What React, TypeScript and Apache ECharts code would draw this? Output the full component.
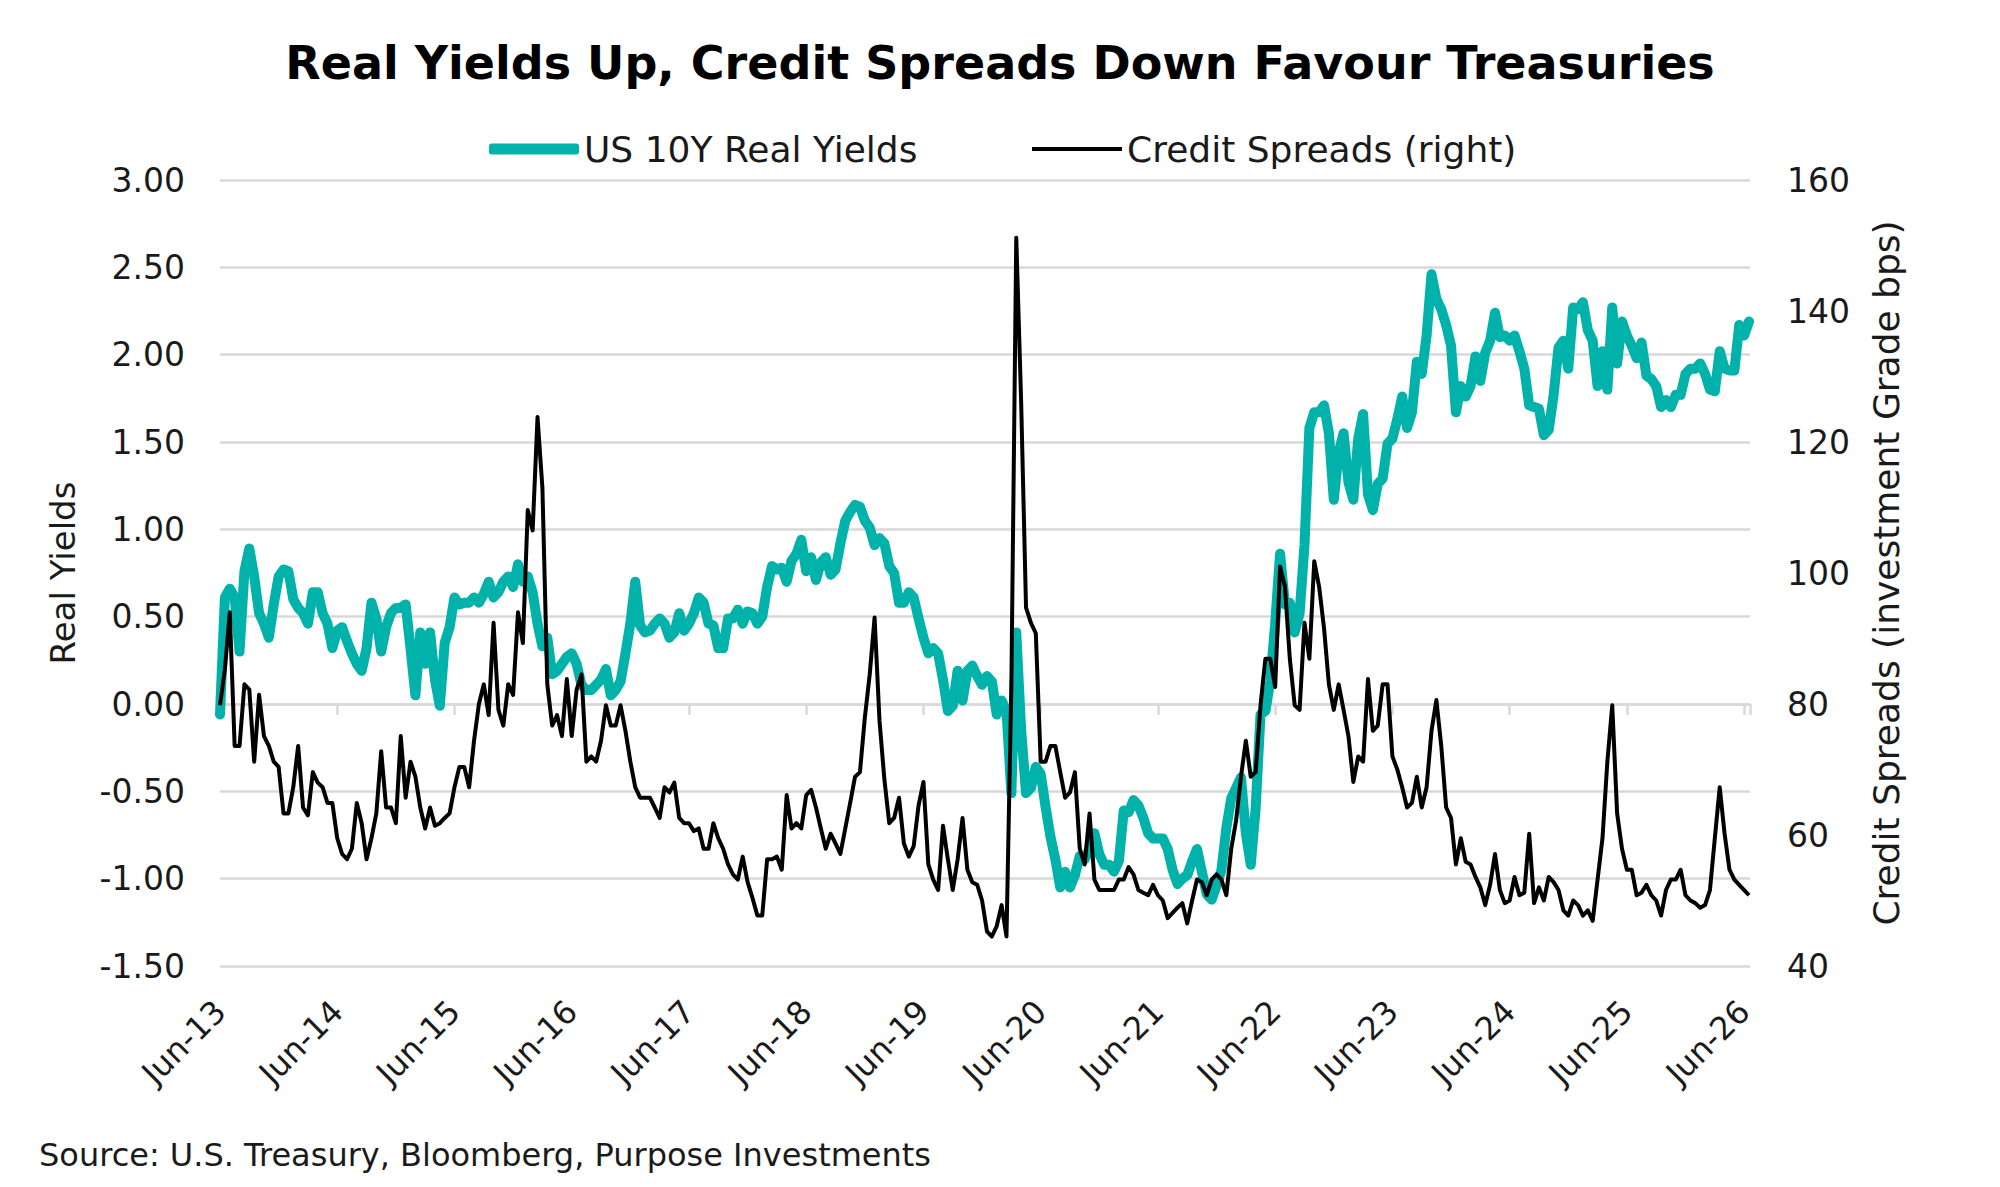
import { useEffect, useRef } from 'react'
import * as echarts from 'echarts'

// half-monthly readings, first point = Jun-13, last point = Jun-26
const startYear = 13
const stepMonths = 0.5

// US 10Y real yields (%)
const realYields = [
  -0.06, 0.61, 0.66, 0.61, 0.30, 0.76, 0.89, 0.73, 0.52, 0.46, 0.38, 0.57,
  0.73, 0.77, 0.76, 0.60, 0.55, 0.52, 0.46, 0.64, 0.64, 0.52, 0.46, 0.32,
  0.42, 0.44, 0.36, 0.29, 0.23, 0.19, 0.32, 0.58, 0.49, 0.30, 0.44, 0.52,
  0.55, 0.55, 0.57, 0.32, 0.05, 0.41, 0.23, 0.41, 0.14, -0.01, 0.35, 0.44,
  0.61, 0.57, 0.58, 0.58, 0.61, 0.58, 0.63, 0.70, 0.61, 0.64, 0.70, 0.73,
  0.67, 0.80, 0.70, 0.73, 0.64, 0.46, 0.33, 0.38, 0.17, 0.19, 0.23, 0.27,
  0.29, 0.23, 0.11, 0.08, 0.08, 0.11, 0.14, 0.20, 0.05, 0.08, 0.13, 0.29,
  0.46, 0.70, 0.45, 0.41, 0.42, 0.46, 0.49, 0.46, 0.38, 0.41, 0.52, 0.42,
  0.46, 0.52, 0.61, 0.58, 0.46, 0.45, 0.32, 0.32, 0.49, 0.49, 0.54, 0.46,
  0.53, 0.52, 0.46, 0.50, 0.67, 0.79, 0.77, 0.78, 0.70, 0.82, 0.86, 0.94,
  0.76, 0.84, 0.71, 0.81, 0.84, 0.74, 0.77, 0.92, 1.05, 1.10, 1.14, 1.13,
  1.05, 1.01, 0.91, 0.95, 0.92, 0.79, 0.75, 0.58, 0.58, 0.64, 0.61, 0.49,
  0.38, 0.29, 0.32, 0.29, 0.14, -0.04, -0.01, 0.19, 0.02, 0.19, 0.22, 0.16,
  0.11, 0.16, 0.13, -0.06, 0.02, -0.04, -0.51, 0.41, -0.15, -0.51, -0.48, -0.36,
  -0.40, -0.59, -0.76, -0.89, -1.05, -0.96, -1.05, -0.98, -0.87, -0.89, -0.83, -0.74,
  -0.86, -0.92, -0.92, -0.96, -0.90, -0.61, -0.62, -0.55, -0.58, -0.65, -0.74, -0.77,
  -0.77, -0.77, -0.83, -0.95, -1.03, -1.00, -0.98, -0.90, -0.83, -0.96, -1.09, -1.12,
  -1.04, -0.95, -0.71, -0.54, -0.48, -0.42, -0.74, -0.92, -0.60, -0.06, -0.04, 0.13,
  0.46, 0.86, 0.57, 0.58, 0.41, 0.52, 0.91, 1.58, 1.67, 1.67, 1.71, 1.55,
  1.17, 1.44, 1.55, 1.27, 1.17, 1.52, 1.66, 1.20, 1.11, 1.26, 1.29, 1.49,
  1.52, 1.63, 1.76, 1.58, 1.67, 1.96, 1.89, 2.11, 2.46, 2.32, 2.26, 2.17,
  2.05, 1.67, 1.82, 1.76, 1.82, 1.99, 1.85, 2.01, 2.08, 2.24, 2.10, 2.11,
  2.08, 2.11, 2.02, 1.92, 1.71, 1.70, 1.69, 1.54, 1.57, 1.77, 2.04, 2.08,
  1.92, 2.27, 2.26, 2.30, 2.14, 2.08, 1.82, 2.02, 1.80, 2.27, 1.95, 2.19,
  2.11, 2.05, 1.98, 2.07, 1.88, 1.86, 1.82, 1.70, 1.74, 1.70, 1.77, 1.77,
  1.89, 1.92, 1.92, 1.95, 1.89, 1.80, 1.79, 2.02, 1.92, 1.91, 1.91, 2.17,
  2.11, 2.19,
]

// investment grade credit spreads (bps)
const creditSpreads = [
  79.8, 85.3, 94.0, 73.6, 73.6, 83.0, 82.2, 71.2, 81.4, 75.1, 73.6, 71.2,
  70.4, 63.3, 63.3, 67.3, 73.6, 64.2, 63.0, 69.6, 68.0, 67.3, 64.9, 64.9,
  59.5, 57.1, 56.3, 57.9, 64.9, 61.8, 56.3, 59.5, 63.3, 72.8, 64.2, 64.2,
  61.8, 75.1, 65.7, 71.2, 68.9, 64.2, 61.0, 64.2, 61.4, 61.8, 62.6, 63.3,
  67.3, 70.4, 70.4, 67.3, 74.4, 80.0, 83.0, 78.3, 92.4, 79.1, 76.7, 83.0,
  81.4, 94.0, 89.3, 109.6, 106.5, 123.8, 113.0, 83.0, 76.7, 78.3, 75.1, 83.8,
  75.1, 82.2, 84.5, 71.2, 72.0, 71.2, 74.4, 79.8, 76.7, 76.7, 79.8, 75.9,
  71.2, 67.3, 65.7, 65.7, 65.7, 64.2, 62.6, 67.3, 66.5, 68.0, 62.6, 61.8,
  61.8, 60.6, 61.0, 57.9, 57.9, 61.8, 59.5, 57.9, 55.5, 54.0, 53.2, 56.7,
  52.8, 50.4, 47.7, 47.7, 56.3, 56.3, 56.7, 54.7, 66.1, 61.0, 61.8, 61.0,
  66.1, 66.9, 64.2, 61.0, 57.9, 60.2, 58.7, 57.1, 61.0, 64.9, 68.9, 69.6,
  77.9, 84.5, 93.2, 77.5, 68.5, 61.8, 62.6, 65.7, 58.7, 56.7, 58.3, 64.5,
  68.1, 55.5, 53.2, 51.6, 61.4, 56.3, 51.6, 56.3, 62.6, 54.7, 52.8, 52.4,
  50.0, 45.3, 44.5, 46.1, 49.3, 44.5, 83.0, 151.2, 126.1, 94.7, 92.4, 90.8,
  71.2, 71.2, 73.6, 73.6, 69.6, 65.7, 66.5, 69.6, 57.9, 55.5, 63.3, 53.2,
  51.6, 51.6, 51.6, 51.6, 53.2, 53.2, 55.1, 54.0, 51.6, 51.2, 50.8, 52.4,
  50.8, 50.0, 47.3, 48.1, 48.9, 49.6, 46.5, 50.0, 53.2, 52.8, 50.8, 53.2,
  54.0, 53.2, 50.8, 57.9, 62.2, 68.9, 74.4, 68.9, 69.6, 79.8, 86.9, 86.9,
  82.6, 101.0, 97.9, 86.9, 79.8, 79.1, 92.4, 86.9, 101.8, 97.9, 91.6, 83.0,
  79.1, 83.0, 79.1, 75.1, 68.1, 72.0, 71.2, 83.8, 75.9, 76.7, 83.0, 83.0,
  72.0, 70.0, 67.3, 64.2, 64.9, 68.9, 64.2, 67.3, 75.9, 80.6, 73.6, 64.2,
  62.6, 55.5, 59.5, 55.9, 55.5, 53.6, 52.0, 49.3, 52.4, 57.1, 51.6, 49.6,
  50.0, 53.6, 50.8, 51.2, 60.2, 49.6, 52.0, 50.0, 53.6, 52.8, 51.6, 48.5,
  47.7, 50.0, 49.3, 47.7, 48.5, 46.9, 53.2, 59.5, 71.2, 79.8, 63.3, 57.9,
  54.7, 54.7, 50.8, 51.2, 52.4, 50.8, 50.0, 47.7, 51.6, 53.2, 53.2, 54.7,
  50.8, 50.0, 49.6, 48.9, 49.3, 51.6, 59.5, 67.3, 60.2, 54.7, 53.2, 52.4,
  51.6, 50.8,
]

const leftTicks = { min: -1.5, max: 3, interval: 0.5 }
const rightTicks = { min: 40, max: 160, interval: 20 }

const FONT = 'DejaVu Sans'
const TEAL = '#00B2A9'
const GRID = '#D9D9D9'
const TEXT = '#1a1a1a'

export default function App() {
  const ref = useRef<HTMLDivElement | null>(null)

  useEffect(() => {
    if (!ref.current) return
    const chart = echarts.init(ref.current, null, { renderer: 'svg' })
    chart.setOption(buildOption())
    return () => chart.dispose()
  }, [])

  return (
    <div
      ref={ref}
      style={{ position: 'absolute', left: 0, top: 0, width: 2000, height: 1187, background: '#fff' }}
    />
  )
}

function buildOption() {
  const toPoints = (values: number[]) => values.map((v, i) => [i * stepMonths, v])
  const xMax = (realYields.length - 1) * stepMonths + 0.1
  const xBase = {
    type: 'value',
    min: 0,
    max: xMax,
    interval: 12,
    splitLine: { show: false },
  }
  const legendBase = {
    top: 126,
    itemWidth: 90,
    itemGap: 0,
    textStyle: { fontFamily: FONT, fontSize: 36, color: TEXT },
  }

  return {
    animation: false,
    backgroundColor: '#fff',
    textStyle: { fontFamily: FONT },
    title: {
      text: 'Real Yields Up, Credit Spreads Down Favour Treasuries',
      left: 'center',
      top: 35,
      textStyle: { fontFamily: FONT, fontSize: 46, fontWeight: 'bold', color: '#000' },
    },
    legend: [
      { ...legendBase, left: 484, itemHeight: 11, icon: 'roundRect', data: ['US 10Y Real Yields'] },
      { ...legendBase, left: 1027, itemHeight: 4, icon: 'rect', data: ['Credit Spreads (right)'] },
    ],
    grid: { left: 220, right: 250, top: 180, bottom: 221 },
    xAxis: [
      {
        ...xBase,
        position: 'bottom',
        axisLine: { show: false, onZero: false },
        axisTick: { show: false },
        axisLabel: {
          rotate: 45,
          margin: 40,
          fontFamily: FONT,
          fontSize: 32,
          color: TEXT,
          formatter: (v: number) => `Jun-${startYear + Math.round(v / 12)}`,
        },
      },
      {
        ...xBase,
        position: 'bottom',
        axisLine: { show: true, onZero: true, lineStyle: { color: GRID, width: 2.5 } },
        axisTick: { show: true, length: 11, lineStyle: { color: GRID, width: 2.5 } },
        axisLabel: { show: false },
      },
    ],
    yAxis: [
      {
        type: 'value',
        ...leftTicks,
        name: 'Real Yields',
        nameLocation: 'middle',
        nameRotate: 90,
        nameGap: 140,
        nameTextStyle: { fontFamily: FONT, fontSize: 34, color: TEXT },
        axisLine: { show: false },
        axisTick: { show: false },
        axisLabel: {
          margin: 35,
          fontFamily: FONT,
          fontSize: 33,
          color: TEXT,
          formatter: (v: number) => v.toFixed(2),
        },
        splitLine: { lineStyle: { color: GRID, width: 2.5 } },
      },
      {
        type: 'value',
        ...rightTicks,
        position: 'right',
        name: 'Credit Spreads (investment Grade bps)',
        nameLocation: 'middle',
        nameRotate: 90,
        nameGap: 118,
        nameTextStyle: { fontFamily: FONT, fontSize: 36, color: TEXT },
        axisLine: { show: false },
        axisTick: { show: false },
        axisLabel: { margin: 37, fontFamily: FONT, fontSize: 33, color: TEXT },
        splitLine: { show: false },
      },
    ],
    series: [
      {
        name: 'US 10Y Real Yields',
        type: 'line',
        xAxisIndex: 0,
        yAxisIndex: 0,
        showSymbol: false,
        symbol: 'none',
        data: toPoints(realYields),
        itemStyle: { color: TEAL },
        lineStyle: { color: TEAL, width: 10, cap: 'round', join: 'round' },
      },
      {
        name: 'Credit Spreads (right)',
        type: 'line',
        xAxisIndex: 0,
        yAxisIndex: 1,
        showSymbol: false,
        symbol: 'none',
        data: toPoints(creditSpreads),
        itemStyle: { color: '#000' },
        lineStyle: { color: '#000', width: 4, join: 'round' },
      },
    ],
    graphic: [
      {
        type: 'text',
        left: 39,
        top: 1139,
        style: {
          text: 'Source: U.S. Treasury, Bloomberg, Purpose Investments',
          fontFamily: FONT,
          fontSize: 32,
          fill: TEXT,
        },
      },
    ],
  }
}
